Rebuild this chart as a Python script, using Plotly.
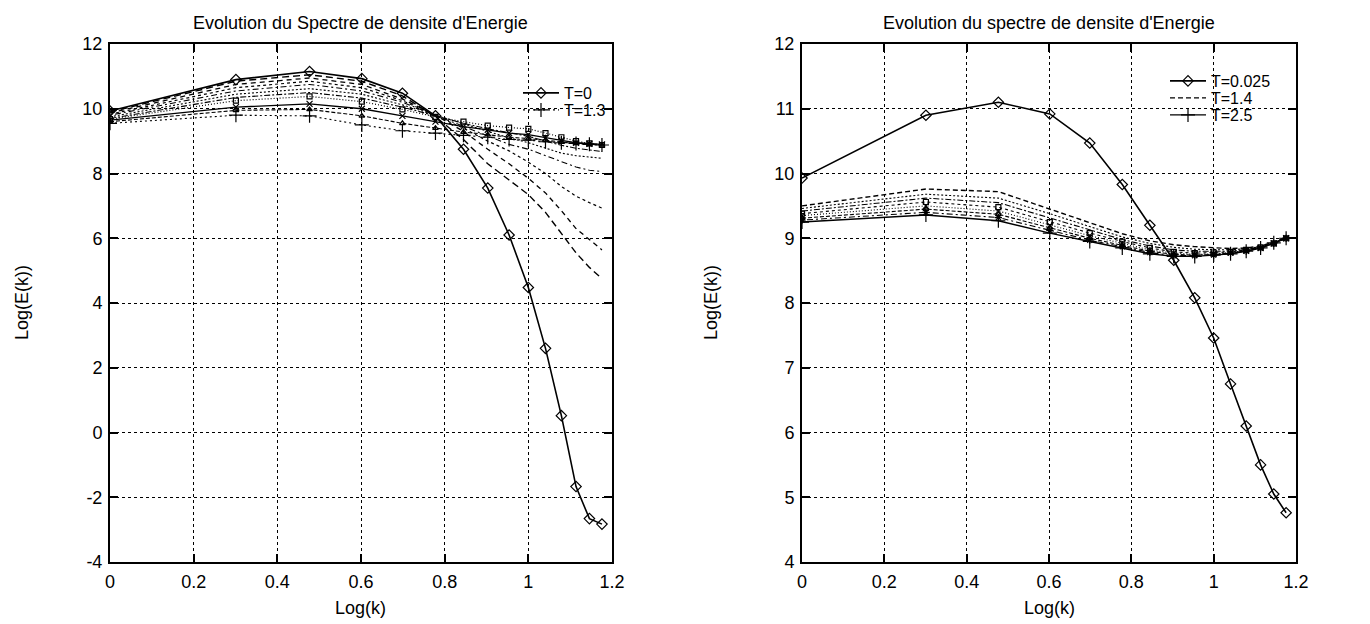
import plotly.graph_objects as go

# ---------------- data ----------------
LOG_K = [0.0, 0.301, 0.477, 0.602, 0.699, 0.778, 0.845, 0.903, 0.954, 1.0,
         1.041, 1.079, 1.114, 1.146, 1.176]

# Left panel: "Evolution du Spectre de densite d'Energie"
L_T0   = [9.93, 10.9, 11.15, 10.93, 10.48, 9.78, 8.75, 7.55, 6.1, 4.48, 2.6, 0.52, -1.67, -2.66, -2.83]
L_C1   = [9.9, 10.85, 11.05, 10.85, 10.4, 9.75, 9.05, 8.3, 7.8, 7.35, 6.8, 6.15, 5.55, 5.1, 4.75]
L_C2   = [9.87, 10.75, 10.95, 10.75, 10.3, 9.8, 9.3, 8.75, 8.3, 7.85, 7.4, 6.85, 6.3, 5.95, 5.64]
L_C3   = [9.83, 10.65, 10.85, 10.65, 10.25, 9.8, 9.4, 9.0, 8.7, 8.35, 8.0, 7.6, 7.3, 7.1, 6.93]
L_C4   = [9.8, 10.55, 10.75, 10.55, 10.2, 9.8, 9.45, 9.15, 8.9, 8.75, 8.55, 8.35, 8.2, 8.1, 8.06]
L_C5   = [9.75, 10.45, 10.62, 10.45, 10.12, 9.8, 9.52, 9.3, 9.1, 8.95, 8.78, 8.63, 8.55, 8.5, 8.47]
L_C6   = [9.7, 10.35, 10.5, 10.33, 10.05, 9.78, 9.55, 9.38, 9.25, 9.15, 9.0, 8.87, 8.78, 8.72, 8.68]
L_C7   = [9.68, 10.25, 10.38, 10.22, 9.98, 9.75, 9.6, 9.48, 9.42, 9.38, 9.25, 9.12, 9.0, 8.93, 8.88]
L_C8   = [9.65, 10.05, 10.15, 10.0, 9.78, 9.6, 9.45, 9.35, 9.25, 9.2, 9.1, 9.02, 8.95, 8.92, 8.9]
L_C9   = [9.6, 9.95, 9.98, 9.78, 9.55, 9.4, 9.28, 9.2, 9.12, 9.08, 9.02, 8.97, 8.93, 8.9, 8.88]
L_T13  = [9.55, 9.8, 9.78, 9.5, 9.32, 9.25, 9.18, 9.12, 9.05, 9.03, 8.98, 8.95, 8.93, 8.9, 8.88]

# Right panel: "Evolution du spectre de densite d'Energie"
R_T0025 = [9.93, 10.9, 11.1, 10.92, 10.47, 9.83, 9.2, 8.66, 8.08, 7.46, 6.75, 6.1, 5.5, 5.05, 4.76]
R_T14   = [9.5, 9.76, 9.72, 9.45, 9.24, 9.07, 8.96, 8.9, 8.87, 8.85, 8.84, 8.85, 8.88, 8.94, 9.02]
R_C1    = [9.46, 9.68, 9.62, 9.38, 9.18, 9.02, 8.92, 8.86, 8.83, 8.82, 8.82, 8.84, 8.87, 8.93, 9.01]
R_C2    = [9.42, 9.62, 9.55, 9.31, 9.12, 8.98, 8.88, 8.82, 8.8, 8.8, 8.8, 8.83, 8.86, 8.93, 9.0]
R_C3    = [9.38, 9.56, 9.48, 9.25, 9.08, 8.95, 8.85, 8.79, 8.77, 8.78, 8.79, 8.82, 8.86, 8.92, 9.0]
R_C4    = [9.35, 9.5, 9.42, 9.2, 9.04, 8.92, 8.82, 8.77, 8.75, 8.76, 8.78, 8.81, 8.85, 8.92, 9.0]
R_C5    = [9.31, 9.45, 9.37, 9.16, 9.0, 8.89, 8.8, 8.75, 8.74, 8.75, 8.77, 8.81, 8.85, 8.92, 9.0]
R_C6    = [9.28, 9.4, 9.32, 9.12, 8.97, 8.87, 8.78, 8.73, 8.73, 8.74, 8.77, 8.8, 8.85, 8.92, 9.0]
R_T25   = [9.25, 9.36, 9.27, 9.08, 8.95, 8.85, 8.76, 8.72, 8.72, 8.74, 8.76, 8.8, 8.85, 8.93, 9.0]

X_TICKS = [0, 0.2, 0.4, 0.6, 0.8, 1.0, 1.2]
X_TICKTEXT = ["0", "0.2", "0.4", "0.6", "0.8", "1", "1.2"]
YL_TICKS = [-4, -2, 0, 2, 4, 6, 8, 10, 12]
YL_TICKTEXT = ["-4", "-2", "0", "2", "4", "6", "8", "10", "12"]
YR_TICKS = [4, 5, 6, 7, 8, 9, 10, 11, 12]
YR_TICKTEXT = ["4", "5", "6", "7", "8", "9", "10", "11", "12"]

TITLE_L = "Evolution du Spectre de densite d'Energie"
TITLE_R = "Evolution du spectre de densite d'Energie"
XLABEL = "Log(k)"
YLABEL = "Log(E(k))"

# ---------------- style ----------------
FONT = "Liberation Sans, Arial, sans-serif"
W, H = 1370, 624


def px_x(p):
    return p / W


def px_y(p):
    return 1 - p / H


XD_L = [px_x(110), px_x(612)]
XD_R = [px_x(802), px_x(1296)]
YD = [px_y(562), px_y(44)]

fig = go.Figure()


def add(y, xa, ya, dash, width=1.0, marker=None, msize=7, name=None, legend=None):
    mode = "lines+markers" if marker else "lines"
    m = None
    if marker:
        m = dict(symbol=marker, size=msize, color="black",
                 line=dict(color="black", width=1.2))
    fig.add_trace(go.Scatter(
        x=LOG_K, y=y, xaxis=xa, yaxis=ya, mode=mode,
        line=dict(color="black", width=width, dash=dash),
        marker=m, name=name if name else "",
        showlegend=name is not None,
        legend=legend if legend else "legend",
        hoverinfo="skip"))


# left panel
add(L_C1, "x", "y", "7px,4px", 1.4)
add(L_C2, "x", "y", "5px,4px", 1.3)
add(L_C3, "x", "y", "3px,3px", 1.2)
add(L_C4, "x", "y", "2px,3px,6px,3px", 1.1)
add(L_C5, "x", "y", "2px,2px", 1.1)
add(L_C6, "x", "y", "6px,2px,2px,2px", 1.1)
add(L_C7, "x", "y", "1px,2px", 1.2, "square-open", 5)
add(L_C8, "x", "y", "solid", 1.3, "x-thin", 6)
add(L_C9, "x", "y", "4px,2px", 1.1, "triangle-up-open", 5)
add(L_T0, "x", "y", "solid", 1.6, "diamond-open", 8, "T=0", "legend")
add(L_T13, "x", "y", "2px,3px", 1.1, "cross-thin-open", 10, "T=1.3", "legend3")

# right panel
add(R_T0025, "x2", "y2", "solid", 1.6, "diamond-open", 8, "T=0.025", "legend2")
add(R_T14, "x2", "y2", "5px,3px", 1.4, None, 7, "T=1.4", "legend4")
add(R_C1, "x2", "y2", "2px,2px", 1.1)
add(R_C2, "x2", "y2", "6px,2px,2px,2px", 1.1)
add(R_C3, "x2", "y2", "3px,3px", 1.1, "square-open", 5)
add(R_C4, "x2", "y2", "1px,2px", 1.1, "x-thin", 6)
add(R_C5, "x2", "y2", "4px,2px", 1.1, "triangle-up-open", 5)
add(R_C6, "x2", "y2", "2px,3px,6px,3px", 1.1, "asterisk-open", 6)
add(R_T25, "x2", "y2", "solid", 1.4, "cross-thin-open", 10, "T=2.5", "legend5")

axis_common = dict(
    showgrid=True, gridcolor="black", griddash="dot", gridwidth=1,
    showline=True, linecolor="black", linewidth=2, mirror="ticks",
    ticks="inside", ticklen=8, tickwidth=1.5, tickcolor="black",
    zeroline=False, tickfont=dict(family=FONT, size=18, color="black"),
    automargin=False, ticklabelstandoff=2,
)


def leg(x, y):
    return dict(x=px_x(x), xanchor="left", y=px_y(y), yanchor="middle",
                bgcolor="rgba(0,0,0,0)", font=dict(family=FONT, size=16),
                itemwidth=36, tracegroupgap=0, borderwidth=0)


fig.update_layout(
    width=W, height=H, margin=dict(l=0, r=0, t=0, b=0),
    paper_bgcolor="white", plot_bgcolor="white",
    font=dict(family=FONT, color="black"),
    xaxis=dict(domain=XD_L, range=[0, 1.2], tickvals=X_TICKS, ticktext=X_TICKTEXT,
               anchor="y", **axis_common),
    yaxis=dict(domain=YD, range=[-4, 12], tickvals=YL_TICKS, ticktext=YL_TICKTEXT,
               anchor="x", **axis_common),
    xaxis2=dict(domain=XD_R, range=[0, 1.2], tickvals=X_TICKS, ticktext=X_TICKTEXT,
                anchor="y2", **axis_common),
    yaxis2=dict(domain=YD, range=[4, 12], tickvals=YR_TICKS, ticktext=YR_TICKTEXT,
                anchor="x2", **axis_common),
    legend=leg(518, 93),
    legend3=leg(518, 110),
    legend2=leg(1165, 81),
    legend4=leg(1165, 98),
    legend5=leg(1165, 115),
    showlegend=True,
)

ann = []
for dom, title in ((XD_L, TITLE_L), (XD_R, TITLE_R)):
    cx = (dom[0] + dom[1]) / 2
    ann.append(dict(text=title, x=cx, y=px_y(23), xref="paper", yref="paper",
                    xanchor="center", yanchor="middle", showarrow=False,
                    font=dict(family=FONT, size=18, color="black")))
    ann.append(dict(text=XLABEL, x=cx, y=px_y(608), xref="paper", yref="paper",
                    xanchor="center", yanchor="middle", showarrow=False,
                    font=dict(family=FONT, size=18, color="black")))
for p in (22, 711):
    ann.append(dict(text=YLABEL, x=px_x(p), y=(YD[0] + YD[1]) / 2, xref="paper",
                    yref="paper", xanchor="center", yanchor="middle", showarrow=False,
                    textangle=-90, font=dict(family=FONT, size=18, color="black")))
fig.update_layout(annotations=ann)

fig.write_html("out.html",
               config={"displayModeBar": False},
               post_script="document.body.style.margin='0';"
                           "document.body.style.overflow='hidden';")
